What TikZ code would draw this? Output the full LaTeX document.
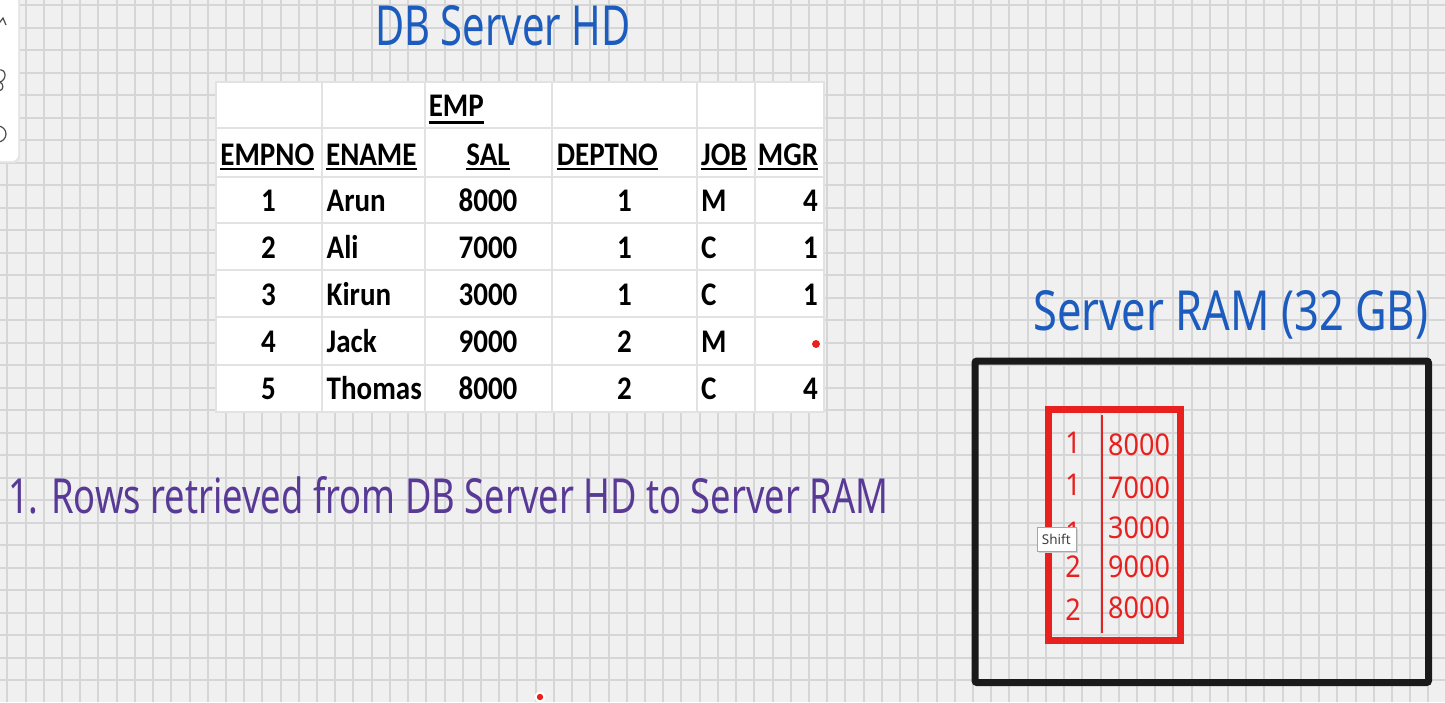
\documentclass[tikz,border=0pt]{standalone}
\usepackage{fontspec}
\setmainfont{Carlito}[FakeStretch=0.88]
\newfontfamily\handfont{Noto Sans}[FakeStretch=0.9]
\newfontfamily\uifont{Noto Sans}
\usepackage{graphicx}
\definecolor{penblue}{RGB}{28,92,190}
\definecolor{penpurple}{RGB}{88,58,150}
\definecolor{penred}{RGB}{232,32,30}
\definecolor{inkblack}{RGB}{26,26,26}
\definecolor{paper}{RGB}{240,240,240}
\definecolor{gridgray}{RGB}{214,214,214}
\definecolor{cellgray}{RGB}{226,226,226}
\usetikzlibrary{positioning}
\tikzset{
  gridline/.style={gridgray, line width=2pt},
  cellline/.style={cellgray, line width=2pt},
  thead/.style={font=\fontsize{33}{33}\selectfont\bfseries, inner sep=0pt, anchor=base},
  tcell/.style={font=\fontsize{33}{33}\selectfont\bfseries, inner sep=0pt},
  uline/.style={line width=2.7pt},
  handtitle/.style={inner sep=0pt, anchor=base west, text=#1},
  ramdigit/.style={font=\handfont\fontsize{30}{30}\selectfont, text=penred, inner sep=0pt},
  icon/.style={black!70, line width=1.2pt},
}

\begin{document}
\begin{tikzpicture}[x=1pt, y=-1pt]
\useasboundingbox (0,0) rectangle (1445,702);

% --- Paper and grid ---
\fill[paper] (0,0) rectangle (1445,702);
\foreach \k in {0,...,78}
  \draw[gridline] ({7.3+18.22*\k},0) -- ({7.3+18.22*\k},702);
\foreach \k in {0,...,30}
  \draw[gridline] (0,{5+22.5*\k}) -- (1445,{5+22.5*\k});

% --- Tool panel (left edge) ---
\fill[black!10, rounded corners=6pt] (-10,-10) rectangle (20,163);
\fill[white, rounded corners=6pt] (-10,-10) rectangle (18,161);
\draw[icon] (-3,26) -- (3,18) -- (6,25);
\draw[icon] (-2,70) .. controls (7,68) and (7,80) .. (0,82) .. controls (4,84) and (4,90) .. (-1,91);
\draw[icon] (-2,134) circle (8);

% --- Title: DB Server HD ---
\node[handtitle=penblue] (hd-title) at (375,45)
  {\resizebox{255pt}{40pt}{\handfont DB Server HD}};

% --- EMP table ---
\fill[white] (216,82) rectangle (824,411.7);
\foreach \ry in {128.3,176.7,223.3,270,317.3,364.7}
  \draw[cellline] (216,\ry) -- (824,\ry);
\foreach \cx in {322,425,552,697,755}
  \draw[cellline] (\cx,82) -- (\cx,411.7);
\draw[cellline] (216,82) rectangle (824,411.7);

\node[thead] (emp-title) at (456.3,116.7) {EMP};
\draw[uline] ([yshift=-5.5pt]emp-title.base west) -- ([yshift=-5.5pt]emp-title.base east);

\foreach \hx/\hname [count=\c] in {267.3/EMPNO, 371.3/ENAME, 488/SAL, 607.3/DEPTNO, 724/JOB, 788/MGR} {
  \node[thead] (hd-\c) at (\hx,165) {\hname};
  \draw[uline] ([yshift=-4pt]hd-\c.base west) -- ([yshift=-4pt]hd-\c.base east);
}

\foreach \no/\nm/\sal/\dep/\job/\mgr [count=\r] in
  {1/Arun/8000/1/M/4, 2/Ali/7000/1/C/1, 3/Kirun/3000/1/C/1, 4/Jack/9000/2/M/{}, 5/Thomas/8000/2/C/4} {
  \pgfmathsetmacro{\by}{211.7+47*(\r-1)}
  \node[tcell, anchor=base] (no-\r) at (268.6,\by) {\no};
  \node[tcell, anchor=base west] (nm-\r) at (326.5,\by) {\nm};
  \node[tcell, anchor=base] (sal-\r) at (488,\by) {\sal};
  \node[tcell, anchor=base] (dep-\r) at (624.5,\by) {\dep};
  \node[tcell, anchor=base west] (job-\r) at (701,\by) {\job};
  \node[tcell, anchor=base east] (mgr-\r) at (818,\by) {\mgr};
}
\fill[penred] (816,344) circle (4);

% --- Step text ---
\node[handtitle=penpurple] (step-one) at (8,513)
  {\resizebox{880pt}{37pt}{\handfont 1. Rows retrieved from DB Server HD to Server RAM}};

% --- Server RAM ---
\node[handtitle=penblue] (ram-title) at (1033,330)
  {\resizebox{395pt}{40pt}{\handfont Server RAM (32 GB)}};
\draw[inkblack, line width=7pt, rounded corners=2pt] (975,361) rectangle (1428.5,682.5);

% rows held in RAM
\draw[penred, line width=7pt] (1048,409.5) rectangle (1180.5,640);
\draw[penred, line width=2pt] (1102.3,415) -- (1102.3,632.7);
\foreach \dn/\dy/\sv/\sy [count=\i] in {1/443/8000/445, 1/485/7000/488, 1/533/3000/528, 2/567/9000/567, 2/610/8000/608} {
  \node[ramdigit] (ram-dep-\i) at (1073,\dy) {\dn};
  \node[ramdigit, anchor=west] (ram-sal-\i) at (1108,\sy) {\sv};
}

% tooltip
\fill[black!18] (1038.5,529) rectangle (1077.5,552.5);
\node[draw=black!35, fill=white, font=\uifont\fontsize{13.5}{14}\selectfont, text=black!75,
      minimum width=39pt, minimum height=23.5pt, inner sep=0pt] (shift-tip) at (1056.3,539) {Shift};

% pointer dot
\fill[white] (540,697) circle (5.5);
\fill[penred] (540,697) circle (3.2);

\end{tikzpicture}
\end{document}
